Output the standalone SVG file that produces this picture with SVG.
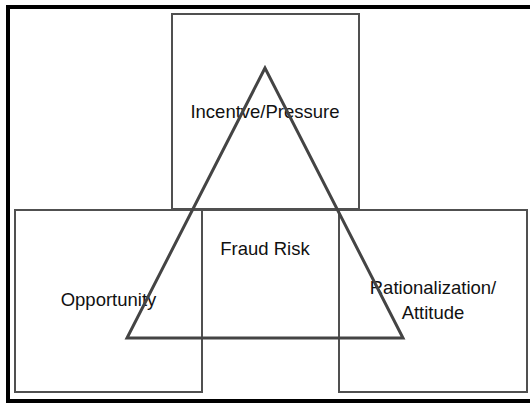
<svg xmlns="http://www.w3.org/2000/svg" width="530" height="403" viewBox="0 0 530 403">
  <style>
    .box { fill: none; stroke: #505050; stroke-width: 2; }
    .tri { fill: none; stroke: #444; stroke-width: 3; stroke-linejoin: miter; }
    .label { font-family: "Liberation Sans", Arial, sans-serif; font-size: 18.5px; fill: #111; text-anchor: middle; }
  </style>
  <rect width="530" height="403" fill="#fff"/>
  <!-- outer frame -->
  <rect x="8" y="7" width="530" height="394" fill="none" stroke="#000" stroke-width="4"/>

  <g id="incentive-pressure">
    <rect class="box" x="172" y="14" width="187" height="195"/>
    <text class="label" x="265" y="118">Incentve/Pressure</text>
  </g>
  <g id="opportunity">
    <rect class="box" x="15" y="210" width="187" height="182"/>
    <text class="label" x="108.5" y="306">Opportunity</text>
  </g>
  <g id="rationalization-attitude">
    <rect class="box" x="339" y="210" width="188" height="182"/>
    <text class="label" x="433" y="294">Rationalization/</text>
    <text class="label" x="433" y="319">Attitude</text>
  </g>
  <g id="fraud-risk">
    <rect class="box" x="202" y="210" width="137" height="128"/>
    <text class="label" x="265" y="255">Fraud Risk</text>
  </g>

  <g id="connectors">
    <polygon class="tri" points="265,68 127,338 403,338"/>
  </g>
</svg>
